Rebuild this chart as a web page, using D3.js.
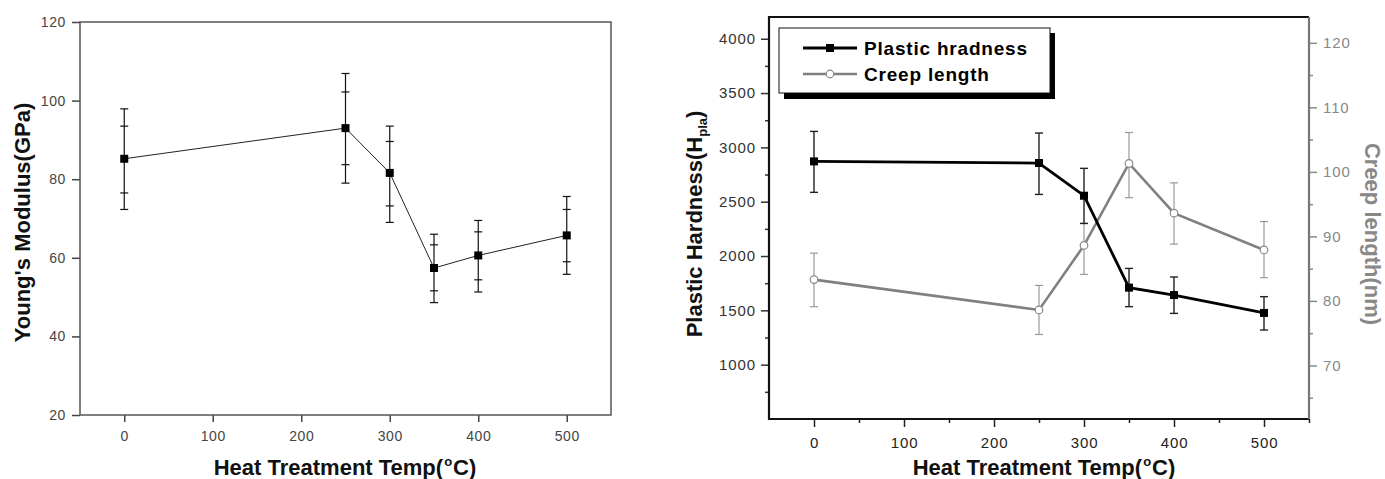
<!DOCTYPE html>
<html lang="en">
<head>
  <meta charset="UTF-8">
  <title>Young's Modulus and Plastic Hardness vs Heat Treatment Temp</title>
  <script src="https://d3js.org/d3.v7.min.js"></script>
  <style>
    body { margin: 0; background: #fff; }
    svg { display: block; font-family: "Liberation Sans", Arial, sans-serif; }
    .left .tick text { font-size: 14px; letter-spacing: 0.6px; }
    .right .tick text { font-size: 15px; letter-spacing: 0.9px; }
  </style>
</head>
<body>
<script>
// temperatures (°C)
const temps = [0, 250, 300, 350, 400, 500];

// left chart: Young's modulus (GPa), two error bar levels
const modulus = [85.2, 93.0, 81.6, 57.4, 60.6, 65.7];
const modulusOuterHi = [97.9, 106.9, 93.5, 66.0, 69.5, 75.6];
const modulusOuterLo = [72.3, 79.0, 69.0, 48.6, 51.3, 55.8];
const modulusInnerHi = [93.5, 102.2, 89.6, 63.3, 66.6, 72.3];
const modulusInnerLo = [76.5, 83.7, 73.2, 51.6, 54.4, 59.0];

// right chart: plastic hardness (left axis) and creep length (right axis)
const hardness = [2871, 2856, 2555, 1709, 1641, 1476];
const hardnessHi = [3147, 3132, 2807, 1886, 1807, 1626];
const hardnessLo = [2586, 2567, 2300, 1534, 1472, 1319];
const creep = [83.3, 78.6, 88.6, 101.3, 93.6, 87.9];
const creepHi = [87.4, 82.4, 92.0, 106.1, 98.3, 92.3];
const creepLo = [79.1, 74.8, 84.1, 96.0, 88.8, 83.6];

// tick values
const tempTicks = [0, 100, 200, 300, 400, 500];
const tempMinor = [50, 150, 250, 350, 450, 550];
const modulusTicks = [20, 40, 60, 80, 100, 120];
const hardnessTicks = [1000, 1500, 2000, 2500, 3000, 3500, 4000];
const hardnessMinor = [750, 1250, 1750, 2250, 2750, 3250, 3750];
const creepTicks = [70, 80, 90, 100, 110, 120];
const creepMinor = [65, 75, 85, 95, 105, 115];

const legendItems = ["Plastic hradness", "Creep length"];

const svg = d3.select("body").append("svg")
  .attr("width", 1385)
  .attr("height", 479);

const fmt = d3.format("d");

function styleAxis(g, color) {
  g.select(".domain").remove();
  g.selectAll(".tick line").attr("stroke", color).attr("stroke-width", 1.5);
  g.selectAll(".tick text").attr("fill", color);
}

function xTitle(cx) {
  const t = svg.append("text")
    .attr("x", cx).attr("y", 475)
    .attr("text-anchor", "middle")
    .attr("font-size", 22).attr("font-weight", "bold")
    .attr("fill", "#111");
  t.append("tspan").text("Heat Treatment Temp(");
  t.append("tspan").text("o").attr("font-size", 13).attr("dy", -9).attr("dx", 1);
  t.append("tspan").text("C)").attr("dy", 9).attr("dx", 1);
}

// ---------- left chart ----------
const xL = d3.scaleLinear().domain([-50, 550]).range([80, 611]);
const yL = d3.scaleLinear().domain([20, 120]).range([415, 22]);
const left = svg.append("g").attr("class", "left");

left.append("g")
  .attr("transform", "translate(0,415)")
  .call(d3.axisBottom(xL).tickValues(tempTicks).tickFormat(fmt).tickSize(7).tickPadding(9))
  .call(g => styleAxis(g, "#444"));

left.append("g")
  .attr("transform", "translate(80,0)")
  .call(d3.axisLeft(yL).tickValues(modulusTicks).tickFormat(fmt).tickSize(8).tickPadding(6))
  .call(g => styleAxis(g, "#444"));

left.append("rect")
  .attr("x", xL.range()[0]).attr("y", yL.range()[1])
  .attr("width", xL.range()[1] - xL.range()[0])
  .attr("height", yL.range()[0] - yL.range()[1])
  .attr("fill", "none").attr("stroke", "#555").attr("stroke-width", 1.5);

const leftErr = left.append("g").attr("stroke", "#111").attr("stroke-width", 1.2);
temps.forEach((t, i) => {
  const x = xL(t);
  leftErr.append("line")
    .attr("x1", x).attr("x2", x)
    .attr("y1", yL(modulusOuterHi[i])).attr("y2", yL(modulusOuterLo[i]));
  [modulusOuterHi[i], modulusOuterLo[i], modulusInnerHi[i], modulusInnerLo[i]].forEach(v => {
    leftErr.append("line")
      .attr("x1", x - 4).attr("x2", x + 4)
      .attr("y1", yL(v)).attr("y2", yL(v));
  });
});

left.append("path")
  .datum(temps.map((t, i) => [t, modulus[i]]))
  .attr("fill", "none").attr("stroke", "#222").attr("stroke-width", 1)
  .attr("d", d3.line().x(d => xL(d[0])).y(d => yL(d[1])));

left.append("g").selectAll("rect")
  .data(temps.map((t, i) => [t, modulus[i]]))
  .join("rect")
  .attr("x", d => xL(d[0]) - 4).attr("y", d => yL(d[1]) - 4)
  .attr("width", 8).attr("height", 8)
  .attr("fill", "#000");

left.append("text")
  .attr("transform", `translate(30,${(22 + 415) / 2 + 4}) rotate(-90)`)
  .attr("text-anchor", "middle")
  .attr("font-size", 22).attr("font-weight", "bold").attr("fill", "#111")
  .text("Young's Modulus(GPa)");

xTitle(345);

// ---------- right chart ----------
const xR = d3.scaleLinear().domain([-50, 550]).range([769, 1309]);
const yH = d3.scaleLinear().domain([500, 4200]).range([419, 17]);
const yC = d3.scaleLinear().domain([61.7, 124]).range([419, 17]);
const right = svg.append("g").attr("class", "right");

right.append("g")
  .attr("transform", "translate(0,419)")
  .call(d3.axisBottom(xR).tickValues(tempTicks).tickFormat(fmt).tickSize(8).tickPadding(10))
  .call(g => styleAxis(g, "#222"));
right.append("g")
  .attr("transform", "translate(0,419)")
  .call(d3.axisBottom(xR).tickValues(tempMinor).tickSize(4).tickFormat(""))
  .call(g => styleAxis(g, "#222"));

right.append("g")
  .attr("transform", "translate(769,0)")
  .call(d3.axisLeft(yH).tickValues(hardnessTicks).tickFormat(fmt).tickSize(8).tickPadding(5))
  .call(g => styleAxis(g, "#333"));
right.append("g")
  .attr("transform", "translate(769,0)")
  .call(d3.axisLeft(yH).tickValues(hardnessMinor).tickSize(4).tickFormat(""))
  .call(g => styleAxis(g, "#333"));

right.append("g")
  .attr("transform", "translate(1309,0)")
  .call(d3.axisRight(yC).tickValues(creepTicks).tickFormat(fmt).tickSize(8).tickPadding(6))
  .call(g => styleAxis(g, "#888"));
right.append("g")
  .attr("transform", "translate(1309,0)")
  .call(d3.axisRight(yC).tickValues(creepMinor).tickSize(4).tickFormat(""))
  .call(g => styleAxis(g, "#888"));

// frame: black left/top/bottom, grey right
const fx0 = xR.range()[0], fx1 = xR.range()[1], fy0 = yH.range()[1], fy1 = yH.range()[0];
right.append("path")
  .attr("d", `M${fx1},${fy0}H${fx0}V${fy1}H${fx1}`)
  .attr("fill", "none").attr("stroke", "#111").attr("stroke-width", 2.2);
right.append("line")
  .attr("x1", fx1).attr("x2", fx1).attr("y1", fy0).attr("y2", fy1)
  .attr("stroke", "#777").attr("stroke-width", 2.2);

// creep length series (grey)
const creepG = right.append("g");
temps.forEach((t, i) => {
  const x = xR(t);
  creepG.append("line")
    .attr("x1", x).attr("x2", x).attr("y1", yC(creepHi[i])).attr("y2", yC(creepLo[i]))
    .attr("stroke", "#999").attr("stroke-width", 1.2);
  [creepHi[i], creepLo[i]].forEach(v => {
    creepG.append("line")
      .attr("x1", x - 4).attr("x2", x + 4).attr("y1", yC(v)).attr("y2", yC(v))
      .attr("stroke", "#999").attr("stroke-width", 1.2);
  });
});
creepG.append("path")
  .datum(temps.map((t, i) => [t, creep[i]]))
  .attr("fill", "none").attr("stroke", "#808080").attr("stroke-width", 2.6)
  .attr("d", d3.line().x(d => xR(d[0])).y(d => yC(d[1])));

// plastic hardness series (black)
const hardG = right.append("g");
temps.forEach((t, i) => {
  const x = xR(t);
  hardG.append("line")
    .attr("x1", x).attr("x2", x).attr("y1", yH(hardnessHi[i])).attr("y2", yH(hardnessLo[i]))
    .attr("stroke", "#222").attr("stroke-width", 1.4);
  [hardnessHi[i], hardnessLo[i]].forEach(v => {
    hardG.append("line")
      .attr("x1", x - 4).attr("x2", x + 4).attr("y1", yH(v)).attr("y2", yH(v))
      .attr("stroke", "#222").attr("stroke-width", 1.4);
  });
});
hardG.append("path")
  .datum(temps.map((t, i) => [t, hardness[i]]))
  .attr("fill", "none").attr("stroke", "#000").attr("stroke-width", 2.8)
  .attr("d", d3.line().x(d => xR(d[0])).y(d => yH(d[1])));
hardG.selectAll("rect")
  .data(temps.map((t, i) => [t, hardness[i]]))
  .join("rect")
  .attr("x", d => xR(d[0]) - 4).attr("y", d => yH(d[1]) - 4)
  .attr("width", 8).attr("height", 8)
  .attr("fill", "#000");

creepG.selectAll("circle")
  .data(temps.map((t, i) => [t, creep[i]]))
  .join("circle")
  .attr("cx", d => xR(d[0])).attr("cy", d => yC(d[1])).attr("r", 3.8)
  .attr("fill", "#fff").attr("stroke", "#888").attr("stroke-width", 1.2);

// legend with drop shadow
const lg = right.append("g");
lg.append("rect").attr("x", 784).attr("y", 33).attr("width", 271).attr("height", 66).attr("fill", "#000");
lg.append("rect").attr("x", 779).attr("y", 28).attr("width", 271).attr("height", 65)
  .attr("fill", "#fff").attr("stroke", "#111").attr("stroke-width", 1);

const rowY = [48, 74];
lg.append("line").attr("x1", 803).attr("x2", 857).attr("y1", rowY[0]).attr("y2", rowY[0])
  .attr("stroke", "#000").attr("stroke-width", 2.8);
lg.append("rect").attr("x", 826).attr("y", rowY[0] - 4).attr("width", 8).attr("height", 8).attr("fill", "#000");
lg.append("line").attr("x1", 803).attr("x2", 857).attr("y1", rowY[1]).attr("y2", rowY[1])
  .attr("stroke", "#808080").attr("stroke-width", 2.6);
lg.append("circle").attr("cx", 830).attr("cy", rowY[1]).attr("r", 3.8)
  .attr("fill", "#fff").attr("stroke", "#888").attr("stroke-width", 1.2);

lg.selectAll("text.lab")
  .data(legendItems)
  .join("text")
  .attr("class", "lab")
  .attr("x", 864).attr("y", (d, i) => rowY[i] + 6.5)
  .attr("font-size", 19).attr("font-weight", "bold").attr("letter-spacing", 0.8)
  .attr("fill", "#000")
  .text(d => d);

// axis titles
const ht = right.append("text")
  .attr("transform", `translate(702,${(17 + 419) / 2 + 6}) rotate(-90)`)
  .attr("text-anchor", "middle")
  .attr("font-size", 22).attr("font-weight", "bold").attr("fill", "#111");
ht.append("tspan").text("Plastic Hardness(H");
ht.append("tspan").text("pla").attr("font-size", 13).attr("dy", 5);
ht.append("tspan").text(")").attr("dy", -5);

right.append("text")
  .attr("transform", `translate(1365,${(17 + 419) / 2 + 16}) rotate(90)`)
  .attr("text-anchor", "middle")
  .attr("font-size", 22).attr("font-weight", "bold").attr("fill", "#888")
  .text("Creep length(nm)");

xTitle(1044);
</script>
</body>
</html>
